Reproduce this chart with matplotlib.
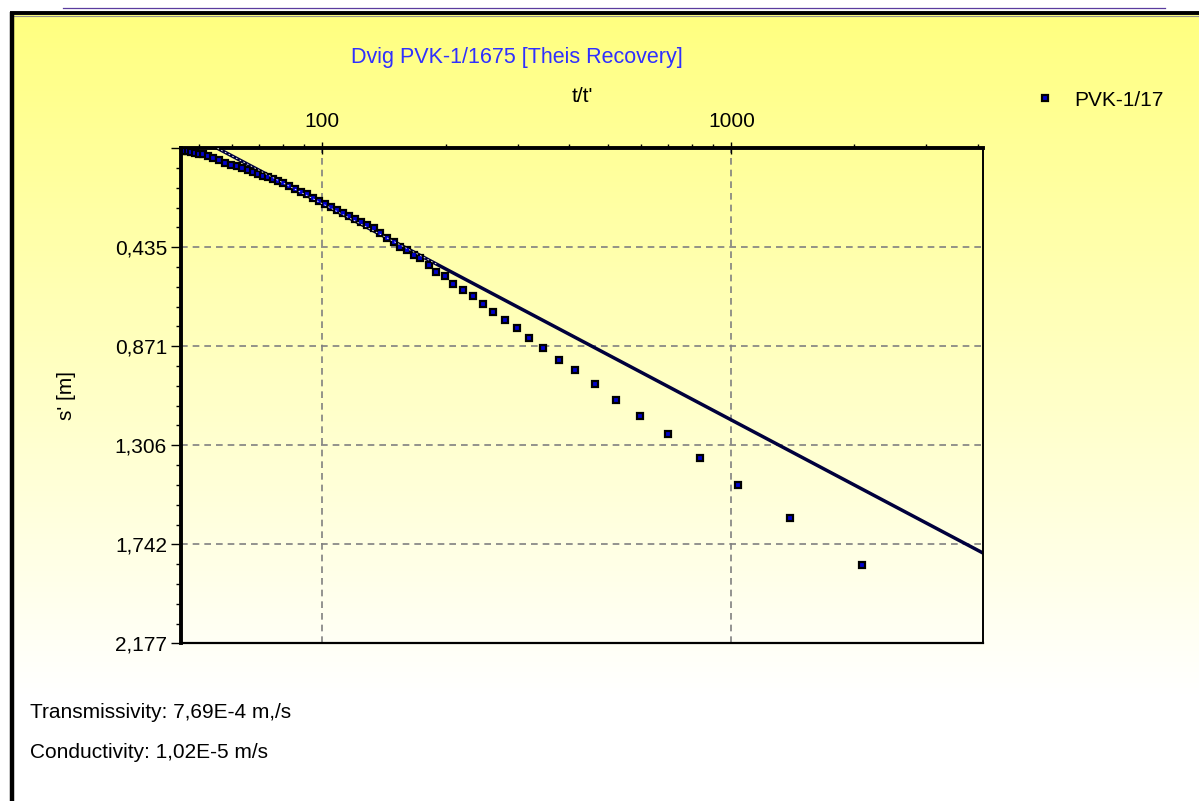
import numpy as np
import matplotlib
matplotlib.use('Agg')
import matplotlib.pyplot as plt
from matplotlib.ticker import FixedLocator, FixedFormatter, NullFormatter

plt.rcParams['font.family'] = ['Liberation Sans', 'DejaVu Sans']

# Recovery measurements: t/t' and residual drawdown s' [m]
t_ratio = [45.3, 46.1, 46.9, 47.7, 48.8, 49.9, 51.0, 52.5, 54.0, 55.8,
           57.7, 59.7, 61.8, 63.6, 65.8, 67.6, 69.6, 71.6, 73.6, 75.7,
           77.9, 80.1, 82.9, 85.7, 88.7, 91.7, 94.9, 98.1, 101.5, 105.0,
           108.6, 112.4, 116.3, 120.3, 124.4, 128.7, 133.4, 138.5, 143.8, 149.3,
           155.0, 161.0, 167.1, 173.6, 181.9, 190.0, 199.1, 208.2, 220.3, 233.2,
           247.3, 261.6, 280.0, 299.6, 320.5, 346.9, 379.7, 415.6, 465.2, 521.0,
           596.4, 698.6, 836.6, 1038.5, 1390.0, 2091.0]
s_resid = [0.010, 0.012, 0.014, 0.016, 0.019, 0.023, 0.027, 0.034, 0.043, 0.053,
           0.063, 0.072, 0.080, 0.087, 0.096, 0.104, 0.111, 0.120, 0.126, 0.133,
           0.142, 0.151, 0.164, 0.177, 0.190, 0.203, 0.217, 0.230, 0.245, 0.258,
           0.272, 0.285, 0.298, 0.311, 0.324, 0.338, 0.352, 0.374, 0.393, 0.411,
           0.433, 0.448, 0.470, 0.484, 0.514, 0.544, 0.562, 0.597, 0.624, 0.650,
           0.685, 0.720, 0.756, 0.791, 0.835, 0.879, 0.932, 0.976, 1.037, 1.108,
           1.178, 1.257, 1.363, 1.479, 1.627, 1.831]

# Theis recovery straight-line fit
fit_t = [55.4, 4125.0]
fit_s = [0.0, 1.78]
fit_overlap_t = [55.4, 190.0]  # part of the fit lying over the dense points

s_ticks = [0.0, 0.4354, 0.8708, 1.3062, 1.7416, 2.177]
s_tick_labels = ['', '0,435', '0,871', '1,306', '1,742', '2,177']
t_ticks = [100, 1000]
t_tick_labels = ['100', '1000']

title = 'Dvig PVK-1/1675 [Theis Recovery]'
well = 'PVK-1/17'
results = ['Transmissivity: 7,69E-4 m,/s', 'Conductivity: 1,02E-5 m/s']

FS = 15
W, H = 1199, 801
fig = plt.figure(figsize=(W / 100, H / 100), dpi=100, facecolor='white')

# background panel with yellow-to-white gradient and frame lines
bg = fig.add_axes([0, 0, 1, 1], zorder=-1)
bg.set_xlim(0, W)
bg.set_ylim(H, 0)
bg.axis('off')
grad = np.linspace(0, 1, 256)[:, None]
cmap = matplotlib.colors.LinearSegmentedColormap.from_list('yw', ['#ffff80', '#ffffff'])
bg.imshow(grad, cmap=cmap, aspect='auto', extent=(12, W, 695, 15), interpolation='bilinear')
bg.plot([63, 1165], [8, 8], color='#5a3c9e', lw=0.9)
bg.plot([10, W], [13, 13], color='black', lw=2.8, solid_capstyle='butt')
bg.plot([12, W], [15.5, 15.5], color='#909090', lw=0.8)
bg.plot([11.5, 11.5], [12, H], color='black', lw=3.2, solid_capstyle='butt')

ax = fig.add_axes([181 / W, 1 - 643.3 / H, (983 - 181) / W, (643.3 - 148.3) / H])
ax.set_facecolor('none')
ax.set_xscale('log')
ax.set_xlim(45.1, 4125)
ax.set_ylim(2.177, 0)

ax.plot(fit_t, fit_s, color='#00003c', lw=2.5, zorder=2)
ax.plot(t_ratio, s_resid, linestyle='none', marker='s', markersize=5,
        markerfacecolor='#0000d0', markeredgecolor='black', markeredgewidth=1.6,
        zorder=3, label=well)
ov_s = [fit_s[0] + (fit_s[1] - fit_s[0]) * np.log10(t / fit_t[0]) / np.log10(fit_t[1] / fit_t[0])
        for t in fit_overlap_t]
ax.plot(fit_overlap_t, ov_s, color='white', lw=0.6, dashes=(2, 3), zorder=4)

# axes: t/t' on top, s' on the left, dashed grid
ax.xaxis.tick_top()
ax.xaxis.set_label_position('top')
ax.xaxis.set_major_locator(FixedLocator(t_ticks))
ax.xaxis.set_major_formatter(FixedFormatter(t_tick_labels))
minor_t = [v * 10 ** d for d in (1, 2, 3) for v in range(2, 10) if 45 < v * 10 ** d < 4125]
ax.xaxis.set_minor_locator(FixedLocator(minor_t))
ax.xaxis.set_minor_formatter(NullFormatter())
ax.tick_params(axis='x', which='major', direction='inout', length=9, width=1, pad=8,
               labelsize=FS, colors='black')
ax.tick_params(axis='x', which='minor', direction='out', length=3, width=1)

ax.yaxis.set_major_locator(FixedLocator(s_ticks))
ax.yaxis.set_major_formatter(FixedFormatter(s_tick_labels))
ax.yaxis.set_minor_locator(FixedLocator(np.arange(0, 2.18, 2.177 / 25)))
ax.tick_params(axis='y', which='major', direction='out', length=7, width=1, pad=3,
               labelsize=FS)
ax.tick_params(axis='y', which='minor', direction='out', length=3.5, width=1)

ax.grid(True, which='major', color='#808080', linestyle=(0, (4, 3)), linewidth=1.2)

for side, w in (('left', 2.8), ('top', 2.8), ('right', 1.4), ('bottom', 1.6)):
    ax.spines[side].set_linewidth(w)
    ax.spines[side].set_color('black')

ax.set_xlabel("t/t'", fontsize=FS, labelpad=7)
fig.text(66 / W, 1 - 396 / H, "s' [m]", rotation=90, fontsize=FS,
         ha='center', va='center')

fig.text(516.5 / W, 1 - 58 / H, title, color='#2f2fff', fontsize=15.5,
         ha='center', va='center')

ax.legend(loc='center left', bbox_to_anchor=(1014 / W, 1 - 100 / H),
          bbox_transform=fig.transFigure, frameon=False, fontsize=FS,
          handlelength=1.2, handletextpad=0.8, markerscale=0.8)

for i, line in enumerate(results):
    fig.text(30 / W, 1 - (712 + 41 * i) / H, line, fontsize=FS, ha='left', va='center')

fig.savefig('out.png', dpi=100, facecolor='white')
